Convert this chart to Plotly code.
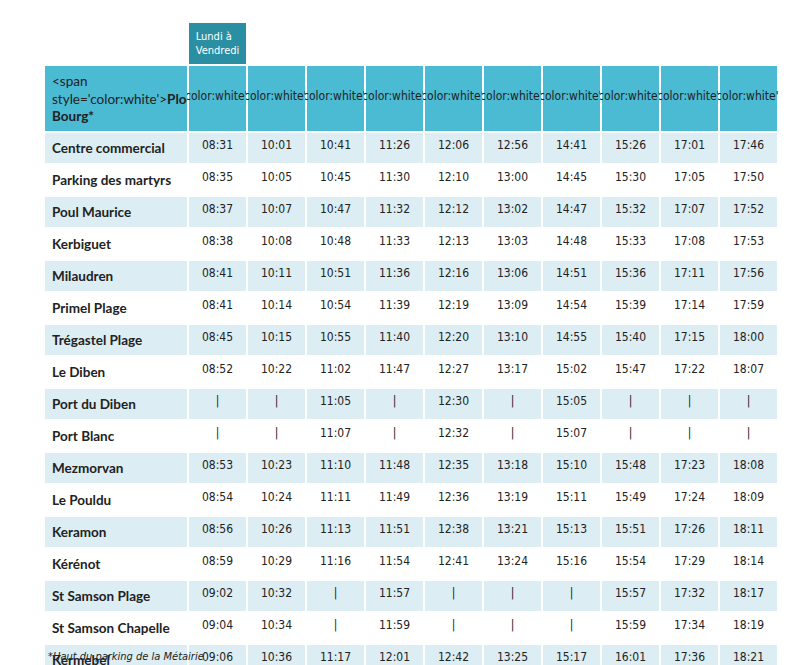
import plotly.graph_objects as go

# ── timetable data ────────────────────────────────────────────────────────────
stops = ["Plougasnou Bourg*", "Centre commercial", "Parking des martyrs", "Poul Maurice",
         "Kerbiguet", "Milaudren", "Primel Plage", "Trégastel Plage", "Le Diben",
         "Port du Diben", "Port Blanc", "Mezmorvan", "Le Pouldu", "Keramon", "Kérénot",
         "St Samson Plage", "St Samson Chapelle", "Kermebel", "Pen ar C'hra", "Port de Térénez"]

times = [
    ["08:30", "10:00", "10:40", "11:25", "12:05", "12:55", "14:40", "15:25", "17:00", "17:45"],
    ["08:31", "10:01", "10:41", "11:26", "12:06", "12:56", "14:41", "15:26", "17:01", "17:46"],
    ["08:35", "10:05", "10:45", "11:30", "12:10", "13:00", "14:45", "15:30", "17:05", "17:50"],
    ["08:37", "10:07", "10:47", "11:32", "12:12", "13:02", "14:47", "15:32", "17:07", "17:52"],
    ["08:38", "10:08", "10:48", "11:33", "12:13", "13:03", "14:48", "15:33", "17:08", "17:53"],
    ["08:41", "10:11", "10:51", "11:36", "12:16", "13:06", "14:51", "15:36", "17:11", "17:56"],
    ["08:41", "10:14", "10:54", "11:39", "12:19", "13:09", "14:54", "15:39", "17:14", "17:59"],
    ["08:45", "10:15", "10:55", "11:40", "12:20", "13:10", "14:55", "15:40", "17:15", "18:00"],
    ["08:52", "10:22", "11:02", "11:47", "12:27", "13:17", "15:02", "15:47", "17:22", "18:07"],
    ["|", "|", "11:05", "|", "12:30", "|", "15:05", "|", "|", "|"],
    ["|", "|", "11:07", "|", "12:32", "|", "15:07", "|", "|", "|"],
    ["08:53", "10:23", "11:10", "11:48", "12:35", "13:18", "15:10", "15:48", "17:23", "18:08"],
    ["08:54", "10:24", "11:11", "11:49", "12:36", "13:19", "15:11", "15:49", "17:24", "18:09"],
    ["08:56", "10:26", "11:13", "11:51", "12:38", "13:21", "15:13", "15:51", "17:26", "18:11"],
    ["08:59", "10:29", "11:16", "11:54", "12:41", "13:24", "15:16", "15:54", "17:29", "18:14"],
    ["09:02", "10:32", "|", "11:57", "|", "|", "|", "15:57", "17:32", "18:17"],
    ["09:04", "10:34", "|", "11:59", "|", "|", "|", "15:59", "17:34", "18:19"],
    ["09:06", "10:36", "11:17", "12:01", "12:42", "13:25", "15:17", "16:01", "17:36", "18:21"],
    ["09:08", "10:38", "11:19", "12:03", "12:44", "13:27", "15:19", "16:03", "17:38", "18:23"],
    ["09:09", "10:39", "11:20", "12:04", "12:45", "13:28", "15:20", "16:04", "17:39", "18:24"],
]

TEAL = '#4bbad3'
LIGHT = '#dcedf4'
NARROW = 'DejaVu Sans Condensed, Liberation Sans Narrow, Liberation Sans'
n = len(stops)

row_fill = [TEAL if i in (0, n - 1) else (LIGHT if i % 2 else 'white') for i in range(n)]


def colour(text, i):
    """white text on the teal first and last rows"""
    if i in (0, n - 1):
        return f"<span style='color:white'>{text}</span>"
    return text


columns = [[colour(f"<b>{s}</b>", i) for i, s in enumerate(stops)]]
columns += [[colour(r[j], i) for i, r in enumerate(times)] for j in range(10)]
n_cols = len(columns)

header_fill = ['white', '#2b8fa3'] + ['white'] * 9

fig = go.Figure(go.Table(
    domain=dict(x=[36 / 807, 770 / 807], y=[0, 1 - 14 / 665]),
    columnwidth=[144] + [59] * 10,
    header=dict(
        values=["", "Lundi à<br>Vendredi"] + [""] * 9,
        fill_color=header_fill,
        line_color='white',
        line_width=2,
        align='center',
        height=35,
        font=dict(family=NARROW, size=11, color='white'),
    ),
    cells=dict(
        values=columns,
        fill_color=[row_fill] * n_cols,
        line_color='white',
        line_width=2,
        align=['left'] + ['center'] * 10,
        height=29.3,
        font=dict(family=['Lato'] + [NARROW] * 10, size=[13.5] + [12] * 10, color='#222222'),
    ),
))

fig.add_annotation(
    text="<i>*Haut du parking de la Métairie</i>", x=38 / 807, y=1 - 648 / 665,
    xref='paper', yref='paper', xanchor='left', yanchor='middle', showarrow=False,
    font=dict(family=NARROW, size=11, color='#222222'),
)
fig.add_shape(type='rect', xref='paper', yref='paper',
              x0=120 / 807, x1=770 / 807, y0=0, y1=1 - 660 / 665,
              fillcolor='#1f6f7a', line_width=0)

fig.update_layout(
    width=807,
    height=665,
    margin=dict(l=0, r=0, t=0, b=0),
    paper_bgcolor='white',
)

fig.write_html("out.html")
